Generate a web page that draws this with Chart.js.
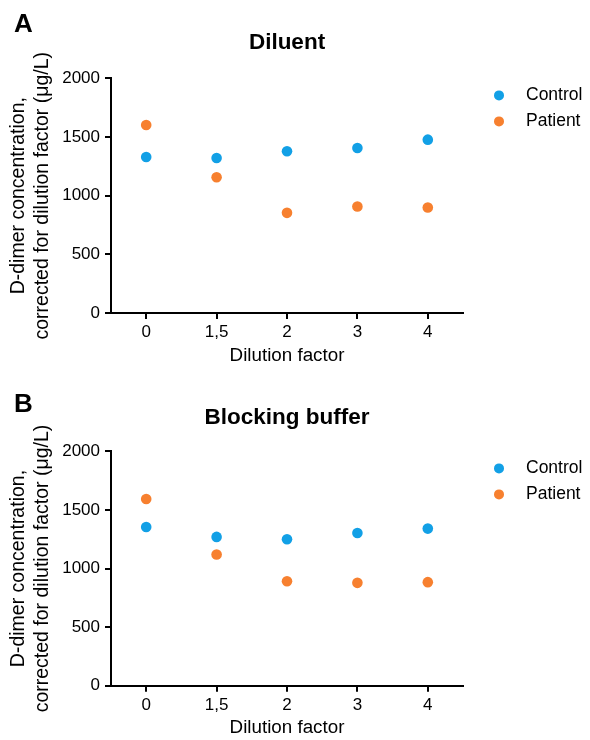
<!DOCTYPE html>
<html>
<head>
<meta charset="utf-8">
<script src="https://cdn.jsdelivr.net/npm/chart.js@4.4.1/dist/chart.umd.min.js"></script>
<style>
    body { margin: 0; background: #fff; }
    canvas { display: block; }
</style>
</head>
<body>
<canvas id="chartA" width="590" height="370"></canvas>
<canvas id="chartB" width="590" height="370"></canvas>
<script>
// 1. Data
const dilutionLabels = ['0', '1,5', '2', '3', '4'];
const seriesNames = ['Control', 'Patient'];
const seriesColors = ['#12a0e6', '#f7802f'];

const diluentControl = [1330, 1322, 1379, 1407, 1478];
const diluentPatient = [1603, 1157, 854, 908, 900];

const blockingControl = [1355, 1270, 1250, 1304, 1341];
const blockingPatient = [1594, 1120, 892, 878, 884];

const yMin = 0, yMax = 2000, yStep = 500;
const yTitle = ['D-dimer concentration,', 'corrected for dilution factor (\u03bcg/L)'];
const xTitle = 'Dilution factor';

const FONT = 'Arial, "Liberation Sans", sans-serif';
Chart.defaults.font.family = FONT;
Chart.defaults.color = '#000';

// 2. Panel letter + side legend (drawn next to the plot area)
const panelDecor = {
    id: 'panelDecor',
    afterDraw(chart, args, opts) {
        const ctx = chart.ctx;
        const area = chart.chartArea;
        ctx.save();
        ctx.fillStyle = '#000';
        ctx.font = 'bold 26px ' + FONT;
        ctx.textBaseline = 'alphabetic';
        ctx.textAlign = 'left';
        ctx.fillText(opts.letter, 14, opts.letterBase);

        ctx.font = '17.5px ' + FONT;
        ctx.textBaseline = 'middle';
        chart.data.datasets.forEach((ds, i) => {
            const y = area.top + 17 + i * 26;
            ctx.fillStyle = ds.pointBackgroundColor;
            ctx.beginPath();
            ctx.arc(area.right + 36, y, 5, 0, Math.PI * 2);
            ctx.fill();
            ctx.fillStyle = '#000';
            ctx.fillText(ds.label, area.right + 63, y);
        });
        ctx.restore();
    }
};

function axisLines() {
    return {
        grid: { display: true, drawOnChartArea: false, drawTicks: true, tickLength: 6, color: '#000', lineWidth: 2 },
        border: { display: true, color: '#000', width: 2 }
    };
}

// 3. Build one panel
function makePanel(id, title, control, patient, p) {
    const datasets = [control, patient].map((vals, i) => ({
        label: seriesNames[i],
        data: vals,
        showLine: false,
        pointStyle: 'circle',
        pointRadius: 5.3,
        pointHoverRadius: 5.3,
        pointBorderWidth: 0,
        pointBackgroundColor: seriesColors[i],
        backgroundColor: seriesColors[i],
        borderColor: seriesColors[i]
    }));

    new Chart(document.getElementById(id), {
        type: 'line',
        data: { labels: dilutionLabels, datasets: datasets },
        plugins: [panelDecor],
        options: {
            responsive: false,
            animation: false,
            events: [],
            layout: { padding: { left: 0, right: 127, top: 0, bottom: 0 } },
            plugins: {
                legend: { display: false },
                tooltip: { enabled: false },
                title: {
                    display: true,
                    text: title,
                    fullSize: false,
                    color: '#000',
                    font: { size: 22.5, weight: 'bold' },
                    padding: { top: p.titleTop, bottom: p.titleBottom }
                },
                panelDecor: { letter: p.letter, letterBase: p.letterBase }
            },
            scales: {
                x: {
                    type: 'category',
                    offset: true,
                    ...axisLines(),
                    ticks: { color: '#000', font: { size: 17 }, padding: 3 },
                    title: { display: true, text: xTitle, color: '#000', font: { size: 18.8 }, padding: { top: 0, bottom: p.xTitlePad } },
                    afterFit: s => { s.height = p.xHeight; }
                },
                y: {
                    min: yMin,
                    max: yMax,
                    ...axisLines(),
                    ticks: { stepSize: yStep, color: '#000', font: { size: 17 }, padding: 5, callback: v => String(v) },
                    title: { display: true, text: yTitle, color: '#000', font: { size: 19.5 }, padding: { top: 7.3, bottom: 0 } },
                    afterFit: s => { s.width = 111; }
                }
            }
        }
    });
}

makePanel('chartA', 'Diluent', diluentControl, diluentPatient,
    { letter: 'A', letterBase: 32, titleTop: 29, titleBottom: 22.4, xHeight: 57, xTitlePad: 3 });
makePanel('chartB', 'Blocking buffer', blockingControl, blockingPatient,
    { letter: 'B', letterBase: 42, titleTop: 34, titleBottom: 20.4, xHeight: 54.3, xTitlePad: 1.2 });
</script>
</body>
</html>
